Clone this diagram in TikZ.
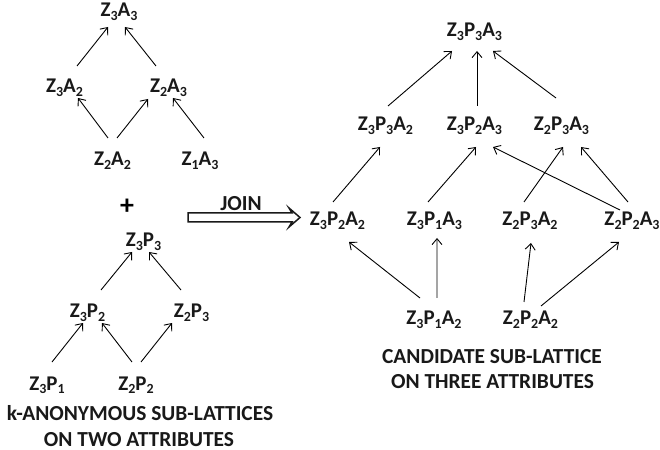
\documentclass[tikz,border=0pt]{standalone}
\usepackage{fontspec}
\setmainfont{Carlito}
\usetikzlibrary{arrows.meta}
\newcommand\lsub[1]{\raisebox{-3.6bp}{\fontsize{14}{14}\selectfont #1}}
\newcommand\lnk[4]{\draw[arr] ([shift={#2}]#1.base) -- ([shift={#4}]#3.base);}
\begin{document}
\begin{tikzpicture}[x=1bp,y=-1bp,
  lab/.style={font=\fontsize{21}{24}\selectfont\bfseries, inner sep=0pt, anchor=base, text=black!90},
  captxt/.style={font=\fontsize{21.5}{25}\selectfont\bfseries, inner sep=0pt, anchor=base, text=black!90},
  arr/.style={line width=0.9bp, -{Straight Barb[length=6bp,width=10bp,line width=0.9bp]}},
  joinarr/.style={line width=1.5bp, line join=miter, draw=black!90}]
\useasboundingbox (0,0) rectangle (660,450);
% left upper lattice
\node[lab] (A33) at (119,17) {Z\lsub3A\lsub3};
\node[lab] (A32) at (64.5,93) {Z\lsub3A\lsub2};
\node[lab] (A23) at (168.5,93) {Z\lsub2A\lsub3};
\node[lab] (A22) at (112.5,166) {Z\lsub2A\lsub2};
\node[lab] (A13) at (200,166) {Z\lsub1A\lsub3};
\lnk{A32}{(12.5,-27)}{A33}{(-11,10)}
\lnk{A23}{(-12.5,-27)}{A33}{(6,10)}
\lnk{A22}{(-4.5,-28)}{A32}{(13.5,5)}
\lnk{A22}{(4.5,-28)}{A23}{(-20.5,6)}
\lnk{A13}{(4,-28)}{A23}{(4.5,5)}
% plus
\node[font=\fontsize{28}{28}\selectfont\bfseries, inner sep=0pt] (plus) at (127,207) {+};
% left lower lattice
\node[lab] (P33) at (143.5,247) {Z\lsub3P\lsub3};
\node[lab] (P32) at (87.5,318) {Z\lsub3P\lsub2};
\node[lab] (P23) at (191.5,318) {Z\lsub2P\lsub3};
\node[lab] (P31) at (47,390) {Z\lsub3P\lsub1};
\node[lab] (P22) at (136,390) {Z\lsub2P\lsub2};
\lnk{P32}{(13.5,-28)}{P33}{(-11.5,5)}
\lnk{P23}{(-10.5,-28)}{P33}{(5.5,5)}
\lnk{P31}{(5,-28)}{P32}{(-4.5,5)}
\lnk{P22}{(-4,-28)}{P32}{(14.5,5)}
\lnk{P22}{(5,-28)}{P23}{(-19.5,5)}
\node[captxt] (capL1) at (140,420) {k-ANONYMOUS SUB-LATTICES};
\node[captxt] (capL2) at (139,446) {ON TWO ATTRIBUTES};
% join arrow
\node[captxt] (join) at (241,211) {JOIN};
\coordinate (js) at (188,217.5);
\coordinate (je) at (300,217.5);
\draw[joinarr] (js) ++(0,-4.5) -- ++(104,0) -- ++(-3,-5) -- (je) -- ++(-11,9.5) -- ++(3,-5) -- ++(-104,0) -- cycle;
% right lattice
\node[lab] (R333) at (474.5,37) {Z\lsub3P\lsub3A\lsub3};
\node[lab] (R332) at (385.5,131) {Z\lsub3P\lsub3A\lsub2};
\node[lab] (R323) at (474.5,131) {Z\lsub3P\lsub2A\lsub3};
\node[lab] (R233) at (561.5,131) {Z\lsub2P\lsub3A\lsub3};
\node[lab] (R322) at (337.5,226) {Z\lsub3P\lsub2A\lsub2};
\node[lab] (R313) at (434.5,226) {Z\lsub3P\lsub1A\lsub3};
\node[lab] (R232) at (530,226) {Z\lsub2P\lsub3A\lsub2};
\node[lab] (R223) at (632,226) {Z\lsub2P\lsub2A\lsub3};
\node[lab] (R312) at (434,325) {Z\lsub3P\lsub1A\lsub2};
\node[lab] (R222) at (530.5,325) {Z\lsub2P\lsub2A\lsub2};
\lnk{R332}{(2.5,-25)}{R333}{(-22.5,14)}
\lnk{R323}{(2.5,-25)}{R333}{(2.5,14)}
\lnk{R233}{(-5.5,-33)}{R333}{(18.5,14)}
\lnk{R322}{(-4.5,-24)}{R332}{(-5.5,16)}
\lnk{R313}{(-6.5,-24)}{R323}{(1.5,16)}
\lnk{R232}{(-6,-24)}{R233}{(1.5,16)}
\lnk{R223}{(-12,-16)}{R323}{(18.5,16)}
\lnk{R223}{(-4,-24)}{R233}{(19.5,16)}
\lnk{R312}{(-14,-27)}{R322}{(11.5,16)}
\lnk{R312}{(3,-27)}{R313}{(2.5,12)}
\lnk{R222}{(-6.5,-23)}{R232}{(1,17)}
\lnk{R222}{(10.5,-19)}{R223}{(-13,16)}
\node[captxt] (capR1) at (492,363) {CANDIDATE SUB-LATTICE};
\node[captxt] (capR2) at (492.5,388) {ON THREE ATTRIBUTES};
\end{tikzpicture}
\end{document}
